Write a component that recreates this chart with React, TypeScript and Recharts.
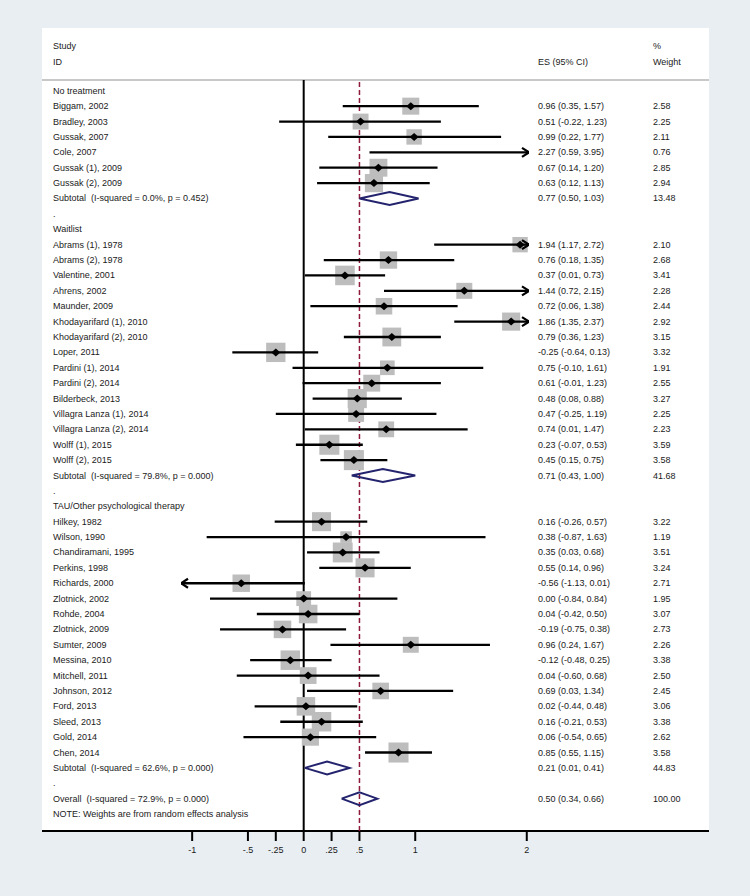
import React from "react";
import { ScatterChart, Scatter, XAxis, YAxis, ReferenceLine } from "recharts";

// subgroups, in plotting order
const groupNames = ["No treatment", "Waitlist", "TAU/Other psychological therapy"];
const groupSizes = [6, 15, 16];

const studyIds = [
  "Biggam, 2002", "Bradley, 2003", "Gussak, 2007", "Cole, 2007", "Gussak (1), 2009", "Gussak (2), 2009",
  "Abrams (1), 1978", "Abrams (2), 1978", "Valentine, 2001", "Ahrens, 2002", "Maunder, 2009",
  "Khodayarifard (1), 2010", "Khodayarifard (2), 2010", "Loper, 2011", "Pardini (1), 2014", "Pardini (2), 2014",
  "Bilderbeck, 2013", "Villagra Lanza (1), 2014", "Villagra Lanza (2), 2014", "Wolff (1), 2015", "Wolff (2), 2015",
  "Hilkey, 1982", "Wilson, 1990", "Chandiramani, 1995", "Perkins, 1998", "Richards, 2000", "Zlotnick, 2002",
  "Rohde, 2004", "Zlotnick, 2009", "Sumter, 2009", "Messina, 2010", "Mitchell, 2011", "Johnson, 2012",
  "Ford, 2013", "Sleed, 2013", "Gold, 2014", "Chen, 2014",
];
const effectSizes = [
  0.96, 0.51, 0.99, 2.27, 0.67, 0.63,
  1.94, 0.76, 0.37, 1.44, 0.72, 1.86, 0.79, -0.25, 0.75, 0.61, 0.48, 0.47, 0.74, 0.23, 0.45,
  0.16, 0.38, 0.35, 0.55, -0.56, 0.0, 0.04, -0.19, 0.96, -0.12, 0.04, 0.69, 0.02, 0.16, 0.06, 0.85,
];
const ciLower = [
  0.35, -0.22, 0.22, 0.59, 0.14, 0.12,
  1.17, 0.18, 0.01, 0.72, 0.06, 1.35, 0.36, -0.64, -0.1, -0.01, 0.08, -0.25, 0.01, -0.07, 0.15,
  -0.26, -0.87, 0.03, 0.14, -1.13, -0.84, -0.42, -0.75, 0.24, -0.48, -0.6, 0.03, -0.44, -0.21, -0.54, 0.55,
];
const ciUpper = [
  1.57, 1.23, 1.77, 3.95, 1.2, 1.13,
  2.72, 1.35, 0.73, 2.15, 1.38, 2.37, 1.23, 0.13, 1.61, 1.23, 0.88, 1.19, 1.47, 0.53, 0.75,
  0.57, 1.63, 0.68, 0.96, 0.01, 0.84, 0.5, 0.38, 1.67, 0.25, 0.68, 1.34, 0.48, 0.53, 0.65, 1.15,
];
const weights = [
  2.58, 2.25, 2.11, 0.76, 2.85, 2.94,
  2.1, 2.68, 3.41, 2.28, 2.44, 2.92, 3.15, 3.32, 1.91, 2.55, 3.27, 2.25, 2.23, 3.59, 3.58,
  3.22, 1.19, 3.51, 3.24, 2.71, 1.95, 3.07, 2.73, 2.26, 3.38, 2.5, 2.45, 3.06, 3.38, 2.62, 3.58,
];

const subtotalHet = ["I-squared = 0.0%, p = 0.452", "I-squared = 79.8%, p = 0.000", "I-squared = 62.6%, p = 0.000"];
const subtotalES = [0.77, 0.71, 0.21];
const subtotalLower = [0.5, 0.43, 0.01];
const subtotalUpper = [1.03, 1.0, 0.41];
const subtotalWeights = [13.48, 41.68, 44.83];

const overallHet = "I-squared = 72.9%, p = 0.000";
const overallES = 0.5;
const overallLower = 0.34;
const overallUpper = 0.66;
const overallWeight = 100.0;

const noteText = "NOTE: Weights are from random effects analysis";

const xTicks = [-1, -0.5, -0.25, 0, 0.25, 0.5, 1, 2];
const xTickLabels = ["-1", "-.5", "-.25", "0", ".25", ".5", "1", "2"];
const X_MIN = -1.1;
const X_MAX = 2.02;

const FONT = '"Liberation Sans", Arial, Helvetica, sans-serif';
const TEXT = "#1a1a1a";
const BG = "#e8eef2";
const NAVY = "#23236e";
const LABEL_X = 53;
const ES_X = 538;
const WT_X = 653;
const SQUARE_SCALE = 10.6;
const DIAMOND_HALF = 0.42;

type Row = { row: number; label: string; es?: string; wt?: string };
type Pt = { x: number; y: number };

const fmt = (v: number) => v.toFixed(2);
const ciText = (e: number, l: number, u: number) => `${fmt(e)} (${fmt(l)}, ${fmt(u)})`;
const clip = (v: number) => Math.min(X_MAX, Math.max(X_MIN, v));
const diamond = (es: number, lo: number, hi: number, r: number): Pt[] => [
  { x: lo, y: r },
  { x: es, y: r - DIAMOND_HALF },
  { x: hi, y: r },
  { x: es, y: r + DIAMOND_HALF },
  { x: lo, y: r },
];

const rows: Row[] = [];
const markers: { x: number; y: number; w: number }[] = [];
const ciLines: Pt[][] = [];
const arrows: { x: number; y: number; dir: number }[] = [];
const diamonds: Pt[][] = [];

let r = 0;
let s = 0;
groupNames.forEach((g, gi) => {
  rows.push({ row: r++, label: g });
  for (let k = 0; k < groupSizes[gi]; k++, s++) {
    const e = effectSizes[s];
    const lo = ciLower[s];
    const hi = ciUpper[s];
    rows.push({ row: r, label: studyIds[s], es: ciText(e, lo, hi), wt: fmt(weights[s]) });
    if (e >= X_MIN && e <= X_MAX) markers.push({ x: e, y: r, w: weights[s] });
    ciLines.push([{ x: clip(lo), y: r }, { x: clip(hi), y: r }]);
    if (hi > X_MAX) arrows.push({ x: X_MAX, y: r, dir: 1 });
    if (lo < X_MIN) arrows.push({ x: X_MIN, y: r, dir: -1 });
    r++;
  }
  rows.push({
    row: r,
    label: `Subtotal  (${subtotalHet[gi]})`,
    es: ciText(subtotalES[gi], subtotalLower[gi], subtotalUpper[gi]),
    wt: fmt(subtotalWeights[gi]),
  });
  diamonds.push(diamond(subtotalES[gi], subtotalLower[gi], subtotalUpper[gi], r));
  r++;
  rows.push({ row: r++, label: "." });
});
rows.push({
  row: r,
  label: `Overall  (${overallHet})`,
  es: ciText(overallES, overallLower, overallUpper),
  wt: fmt(overallWeight),
});
diamonds.push(diamond(overallES, overallLower, overallUpper, r));
r++;
rows.push({ row: r++, label: noteText });

const rowByIndex = new Map(rows.map((row) => [row.row, row]));

function RowTick(props: any) {
  const { y, payload } = props;
  const row = rowByIndex.get(payload.value);
  if (!row) return null;
  const common = { y, dominantBaseline: "central", fontFamily: FONT, fontSize: 9, fill: TEXT };
  return (
    <g>
      <text x={LABEL_X} {...common} style={{ whiteSpace: "pre" }}>{row.label}</text>
      {row.es && <text x={ES_X} {...common}>{row.es}</text>}
      {row.wt && <text x={WT_X} {...common}>{row.wt}</text>}
    </g>
  );
}

function SquareShape(props: any) {
  const { cx, cy, payload } = props;
  const side = SQUARE_SCALE * Math.sqrt(payload.w);
  return <rect x={cx - side / 2} y={cy - side / 2} width={side} height={side} fill="#bdbdbd" />;
}

function PointDiamond(props: any) {
  const { cx, cy } = props;
  return <path d={`M${cx - 4.5},${cy} L${cx},${cy - 4} L${cx + 4.5},${cy} L${cx},${cy + 4} Z`} fill="#000" />;
}

function ArrowHead(props: any) {
  const { cx, cy, payload } = props;
  const d = payload.dir;
  return (
    <path
      d={`M${cx - d * 7},${cy - 4.5} L${cx},${cy} L${cx - d * 7},${cy + 4.5}`}
      fill="none"
      stroke="#000"
      strokeWidth={2.2}
    />
  );
}

const Empty = () => <g />;

const headText = (left: number, top: number, text: string) => (
  <div style={{ position: "absolute", left, top: top - 6, fontSize: 9, lineHeight: "12px", color: TEXT, whiteSpace: "pre" }}>
    {text}
  </div>
);

export default function App() {
  return (
    <div style={{ position: "relative", width: 750, height: 896, background: BG, fontFamily: FONT, overflow: "hidden" }}>
      <style>{"body{margin:0}"}</style>
      <div
        style={{
          position: "absolute",
          left: 42,
          top: 28,
          width: 667,
          height: 804,
          background: "#fff",
          borderBottom: "2px solid #000",
          boxSizing: "border-box",
        }}
      />
      <div style={{ position: "absolute", left: 42, top: 79, width: 667, height: 2, background: "#c8c8c8" }} />
      {headText(LABEL_X, 46, "Study")}
      {headText(LABEL_X, 62, "ID")}
      {headText(ES_X, 62, "ES (95% CI)")}
      {headText(WT_X, 46, "%")}
      {headText(WT_X, 62, "Weight")}
      <div style={{ position: "absolute", left: 0, top: 0 }}>
        <ScatterChart width={750} height={896} margin={{ top: 80, right: 221, bottom: 0, left: 0 }}>
          <XAxis
            type="number"
            dataKey="x"
            domain={[X_MIN, X_MAX]}
            allowDataOverflow
            ticks={xTicks}
            interval={0}
            tickFormatter={(v: number) => xTickLabels[xTicks.indexOf(v)]}
            tick={{ fill: TEXT, fontSize: 9, fontFamily: FONT }}
            tickLine={{ stroke: "#000", strokeWidth: 2 }}
            axisLine={false}
            tickSize={10}
            tickMargin={6}
            height={65}
          />
          <YAxis
            type="number"
            dataKey="y"
            domain={[-0.7, 48.1]}
            reversed
            allowDataOverflow
            ticks={rows.map((row) => row.row)}
            interval={0}
            tick={<RowTick />}
            tickLine={false}
            axisLine={false}
            width={181}
          />
          <ReferenceLine x={0} stroke="#000" strokeWidth={2} />
          <ReferenceLine x={overallES} stroke="#8e1b3b" strokeWidth={1.5} strokeDasharray="5 3" />
          <Scatter data={markers} shape={<SquareShape />} isAnimationActive={false} />
          {ciLines.map((seg, i) => (
            <Scatter
              key={`ci-${i}`}
              data={seg}
              line={{ stroke: "#000", strokeWidth: 2.3 }}
              shape={<Empty />}
              isAnimationActive={false}
            />
          ))}
          <Scatter data={markers} shape={<PointDiamond />} isAnimationActive={false} />
          <Scatter data={arrows} shape={<ArrowHead />} isAnimationActive={false} />
          {diamonds.map((pts, i) => (
            <Scatter
              key={`dm-${i}`}
              data={pts}
              line={{ stroke: NAVY, strokeWidth: 2, strokeLinejoin: "miter" }}
              shape={<Empty />}
              isAnimationActive={false}
            />
          ))}
        </ScatterChart>
      </div>
    </div>
  );
}
